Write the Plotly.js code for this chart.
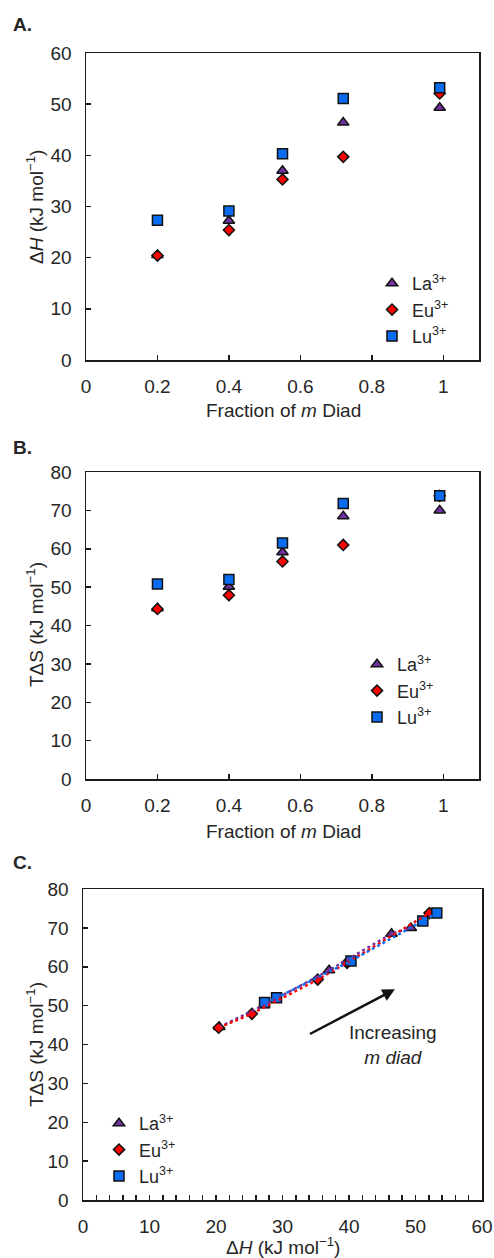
<!DOCTYPE html>
<html><head><meta charset="utf-8">
<script src="https://cdn.plot.ly/plotly-3.0.1.min.js"></script>
<style>html,body{margin:0;padding:0;background:#fff}#chart{width:494px;height:1258px}</style>
</head><body><div id="chart"></div>
<script>
// ---- data ----
const mDiad = [0.2, 0.4, 0.55, 0.72, 0.99];
const dH_La = [20.5, 27.2, 37.0, 46.4, 49.3];
const dH_Eu = [20.4, 25.4, 35.3, 39.7, 52.1];
const dH_Lu = [27.3, 29.1, 40.3, 51.1, 53.2];
const TdS_La = [44.5, 50.1, 59.1, 68.5, 70.0];
const TdS_Eu = [44.3, 47.9, 56.7, 61.0, 73.8];
const TdS_Lu = [50.8, 52.0, 61.5, 71.8, 73.8];
const ionNames = ['La<sup>3+</sup>', 'Eu<sup>3+</sup>', 'Lu<sup>3+</sup>'];
const fracTicks = [0, 0.2, 0.4, 0.6, 0.8, 1];
const fracTickText = ['0', '0.2', '0.4', '0.6', '0.8', '1'];

// ---- styles ----
const FONT = 'Liberation Sans, Arial, sans-serif';
const TXT = '#262626';
const FS = 19;
const styles = [
  {symbol: 'triangle-up', color: '#7030A0', size: 10},
  {symbol: 'diamond', color: '#FF0000', size: 8.5},
  {symbol: 'square', color: '#0A6CF0', size: 10}
];
const dHs = [dH_La, dH_Eu, dH_Lu];
const TdSs = [TdS_La, TdS_Eu, TdS_Lu];

function mk(i) {
  return {symbol: styles[i].symbol, color: styles[i].color, size: styles[i].size,
          line: {color: '#111', width: 1.5}};
}
const traces = [];
// Panel A
for (let i = 0; i < 3; i++) traces.push({type: 'scatter', mode: 'markers', x: mDiad, y: dHs[i],
  name: ionNames[i], marker: mk(i), xaxis: 'x', yaxis: 'y', legend: 'legend', cliponaxis: false});
// Panel B
for (let i = 0; i < 3; i++) traces.push({type: 'scatter', mode: 'markers', x: mDiad, y: TdSs[i],
  name: ionNames[i], marker: mk(i), xaxis: 'x2', yaxis: 'y2', legend: 'legend2', cliponaxis: false});
// Panel C markers
for (let i = 0; i < 3; i++) traces.push({type: 'scatter', mode: 'markers', x: dHs[i], y: TdSs[i],
  name: ionNames[i], marker: mk(i), xaxis: 'x3', yaxis: 'y3', legend: 'legend3', cliponaxis: false});
// Panel C dotted trend lines
for (let i = 0; i < 3; i++) traces.push({type: 'scatter', mode: 'lines', x: dHs[i], y: TdSs[i],
  line: {color: styles[i].color, width: 2.4, dash: 'dot'}, showlegend: false,
  xaxis: 'x3', yaxis: 'y3', hoverinfo: 'skip'});

const W = 494, H = 1258;
const px = v => v / W, py = v => 1 - v / H;

function ax(extra) {
  return Object.assign({
    showline: true, linecolor: '#1a1a1a', linewidth: 1.5, mirror: true,
    ticks: 'inside', ticklen: 5, tickwidth: 1.5, tickcolor: '#1a1a1a',
    showgrid: false, zeroline: false,
    tickfont: {family: FONT, size: FS, color: TXT}, ticklabelstandoff: 9
  }, extra);
}

const legendBase = {bgcolor: 'rgba(0,0,0,0)', font: {family: FONT, size: 18, color: TXT},
  xanchor: 'left', yanchor: 'top', tracegroupgap: 0, itemwidth: 30};

const tf = {family: FONT, size: FS, color: TXT};
const layout = {
  width: W, height: H, margin: {l: 0, r: 0, t: 0, b: 0},
  paper_bgcolor: '#fff', plot_bgcolor: '#fff', showlegend: true,
  font: {family: FONT, color: TXT},
  xaxis: ax({domain: [px(86), px(479)], range: [0, 1.1], tickvals: fracTicks, ticktext: fracTickText, anchor: 'y'}),
  yaxis: ax({domain: [py(360), py(53)], range: [0, 60], dtick: 10, anchor: 'x'}),
  xaxis2: ax({domain: [px(86), px(479)], range: [0, 1.1], tickvals: fracTicks, ticktext: fracTickText, anchor: 'y2'}),
  yaxis2: ax({domain: [py(779), py(472)], range: [0, 80], dtick: 10, anchor: 'x2'}),
  xaxis3: ax({domain: [px(83), px(482)], range: [0, 60], dtick: 10, anchor: 'y3',
    minor: {dtick: 2, ticks: 'inside', ticklen: 5, tickwidth: 1.5, tickcolor: '#1a1a1a'}}),
  yaxis3: ax({domain: [py(1200), py(889)], range: [0, 80], dtick: 10, anchor: 'x3'}),
  legend: Object.assign({}, legendBase, {x: px(372), y: py(265)}),
  legend2: Object.assign({}, legendBase, {x: px(357), y: py(646)}),
  legend3: Object.assign({}, legendBase, {x: px(99), y: py(1105)}),
  annotations: [
    {text: '<b>A.</b>', xref: 'paper', yref: 'paper', x: px(11), y: py(25), xanchor: 'left', yanchor: 'middle', showarrow: false, font: tf},
    {text: '<b>B.</b>', xref: 'paper', yref: 'paper', x: px(11), y: py(448), xanchor: 'left', yanchor: 'middle', showarrow: false, font: tf},
    {text: '<b>C.</b>', xref: 'paper', yref: 'paper', x: px(11), y: py(862), xanchor: 'left', yanchor: 'middle', showarrow: false, font: tf},
    {text: 'Fraction of <i>m</i> Diad', xref: 'paper', yref: 'paper', x: px(283), y: py(411), xanchor: 'center', yanchor: 'middle', showarrow: false, font: tf},
    {text: 'Fraction of <i>m</i> Diad', xref: 'paper', yref: 'paper', x: px(283), y: py(831), xanchor: 'center', yanchor: 'middle', showarrow: false, font: tf},
    {text: 'Δ<i>H</i> (kJ mol<sup>−1</sup>)', xref: 'paper', yref: 'paper', x: px(283), y: py(1246), xanchor: 'center', yanchor: 'middle', showarrow: false, font: tf},
    {text: 'Δ<i>H</i> (kJ mol<sup>−1</sup>)', xref: 'paper', yref: 'paper', x: px(35), y: py(207), xanchor: 'center', yanchor: 'middle', textangle: -90, showarrow: false, font: tf},
    {text: 'TΔS (kJ mol<sup>−1</sup>)', xref: 'paper', yref: 'paper', x: px(35), y: py(625), xanchor: 'center', yanchor: 'middle', textangle: -90, showarrow: false, font: tf},
    {text: 'TΔS (kJ mol<sup>−1</sup>)', xref: 'paper', yref: 'paper', x: px(35), y: py(1045), xanchor: 'center', yanchor: 'middle', textangle: -90, showarrow: false, font: tf},
    {text: '', xref: 'x3', yref: 'y3', x: 46.9, y: 54.2, axref: 'x3', ayref: 'y3', ax: 33.9, ay: 42.5,
      showarrow: true, arrowhead: 2, arrowsize: 1, arrowwidth: 2.5, arrowcolor: '#111'},
    {text: 'Increasing<br><i>m diad</i>', xref: 'x3', yref: 'y3', x: 46.6, y: 40.0, xanchor: 'center', yanchor: 'middle',
      align: 'center', showarrow: false, font: tf}
  ]
};

Plotly.newPlot('chart', traces, layout, {displayModeBar: false, staticPlot: true});
</script>
</body></html>
